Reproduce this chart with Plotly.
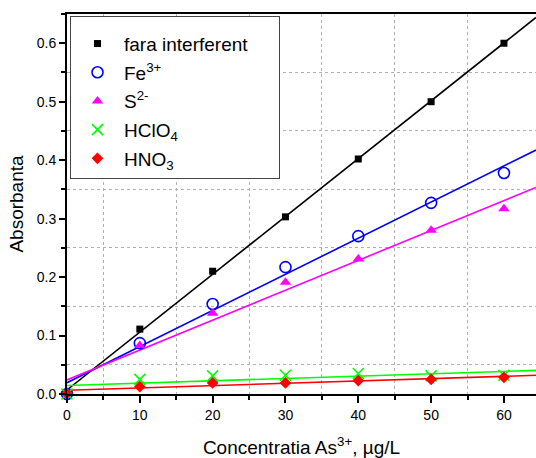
import numpy as np
import plotly.graph_objects as go

conc = [0, 10, 20, 30, 40, 50, 60]
fara = [0.000, 0.111, 0.210, 0.303, 0.402, 0.500, 0.600]
fe = [0.000, 0.087, 0.154, 0.217, 0.270, 0.327, 0.378]
s2 = [0.002, 0.083, 0.138, 0.191, 0.231, 0.280, 0.317]
hclo4 = [0.000, 0.025, 0.031, 0.032, 0.035, 0.031, 0.032]
hno3 = [0.001, 0.0125, 0.019, 0.019, 0.023, 0.025, 0.0285]

names = ["fara interferent", "Fe<sup>3+</sup>", "S<sup>2-</sup>", "HClO<sub>4</sub>", "HNO<sub>3</sub>"]
series = [fara, fe, s2, hclo4, hno3]
colors = ["#000000", "#0000FF", "#FF00FF", "#00FF00", "#FF0000"]
symbols = ["square", "circle-open", "triangle-up", "x-thin-open", "diamond"]
sizes = [7, 11, 10, 11, 9]

XMAX = 64.4
xfit = np.array([0, XMAX])

fig = go.Figure()
for ys, c in zip(series, colors):
    k, b = np.polyfit(conc, ys, 1)
    fig.add_trace(go.Scatter(x=xfit, y=k * xfit + b, mode="lines",
                             line=dict(color=c, width=1.6), showlegend=False,
                             hoverinfo="skip"))
for i, (ys, n, c, sy, sz) in enumerate(zip(series, names, colors, symbols, sizes)):
    mk = dict(color=c, symbol=sy, size=sz)
    if sy in ("circle-open", "x-thin-open"):
        mk["line"] = dict(color=c, width=1.6)
    fig.add_trace(go.Scatter(x=conc, y=ys, mode="markers", name=n + "     ", marker=mk,
                             legendgroup="g%d" % i, cliponaxis=False))

font = "Liberation Sans, Arial, sans-serif"
fig.update_layout(
    width=536, height=458,
    margin=dict(l=67, r=0, t=14, b=64),
    plot_bgcolor="white", paper_bgcolor="white",
    font=dict(family=font, color="#000", size=14),
    showlegend=True,
    legend=dict(x=0.0064, y=0.995, xanchor="left", yanchor="top",
                bordercolor="#444", borderwidth=1, bgcolor="white",
                font=dict(size=19, family=font), itemwidth=43,
                tracegroupgap=1,
                title=dict(text=" ", font=dict(size=6))),
    xaxis=dict(range=[0, XMAX], tick0=0, dtick=10, showgrid=False, zeroline=False,
               showline=True, linecolor="#000", linewidth=2, mirror=True,
               ticks="outside", ticklen=7, tickwidth=1.5, tickcolor="#000",
               minor=dict(tick0=0, dtick=5, ticks="outside", ticklen=4, tickwidth=1.5,
                          tickcolor="#000", showgrid=True, gridcolor="#b0b0b0",
                          griddash="dot", gridwidth=1),
               title=dict(text="Concentratia As<sup>3+</sup>, µg/L",
                          font=dict(size=19), standoff=19),
               tickfont=dict(size=14)),
    yaxis=dict(range=[0, 0.65], tick0=0, dtick=0.1, tickformat=".1f",
               showgrid=False, zeroline=False,
               showline=True, linecolor="#000", linewidth=2, mirror=False,
               ticks="outside", ticklen=6, tickwidth=1.5, tickcolor="#000",
               minor=dict(tick0=0, dtick=0.05, ticks="outside", ticklen=4, tickwidth=1.5,
                          tickcolor="#000", showgrid=True, gridcolor="#b0b0b0",
                          griddash="dot", gridwidth=1),
               title=dict(text="Absorbanta", font=dict(size=19), standoff=8),
               tickfont=dict(size=14)),
)
fig.write_html("out.html")
